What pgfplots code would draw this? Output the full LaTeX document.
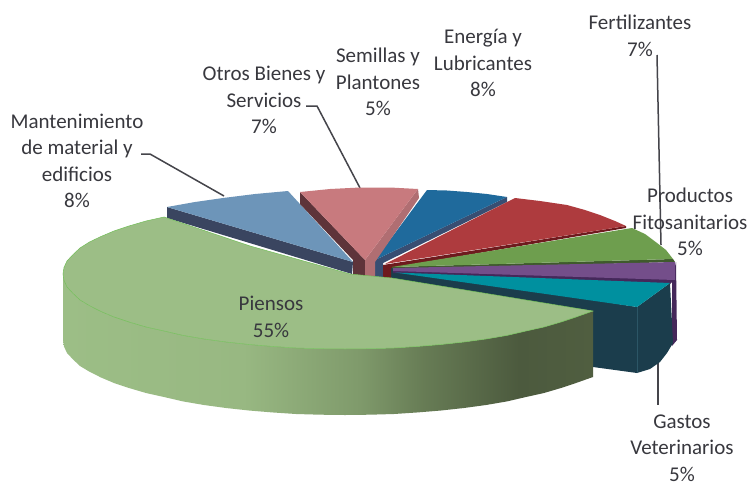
\documentclass[border=0pt]{standalone}
\usepackage{pgfplots}
\pgfplotsset{compat=1.18}
\usepackage{fontspec}
\setmainfont{Carlito}
\definecolor{tx}{HTML}{38383E}
\definecolor{ld}{HTML}{45454B}
\definecolor{gTop}{HTML}{9CBE86}
\definecolor{gEdge}{HTML}{72BE58}
\definecolor{bgTop}{HTML}{6D95B9}
\definecolor{bgSide}{HTML}{3A4560}
\definecolor{pTop}{HTML}{C87A7E}
\definecolor{pSideL}{HTML}{5E343A}
\definecolor{pSideR}{HTML}{B06E72}
\definecolor{bTop}{HTML}{1F6A9C}
\definecolor{bSide}{HTML}{384E72}
\definecolor{rTop}{HTML}{AE3B3E}
\definecolor{rSide}{HTML}{6E1A1E}
\definecolor{lgTop}{HTML}{6E9E4E}
\definecolor{lgSide}{HTML}{3F5A2C}
\definecolor{puTop}{HTML}{744E8A}
\definecolor{puSide}{HTML}{45285A}
\definecolor{tTop}{HTML}{00909F}
\definecolor{tSide}{HTML}{1B3D4C}
\definecolor{tEdge}{HTML}{2C5666}
\definecolor{s0}{HTML}{9CBE86}
\definecolor{s1}{HTML}{98B882}
\definecolor{s2}{HTML}{7F9A6B}
\definecolor{s3}{HTML}{677C55}
\definecolor{s4}{HTML}{4C5A3E}
\definecolor{s5}{HTML}{505E40}
\pgfdeclarehorizontalshading{greenside}{100bp}{
  color(0bp)=(s0); color(25bp)=(s0); color(42bp)=(s1); color(53bp)=(s2);
  color(59bp)=(s3); color(68bp)=(s4); color(75bp)=(s5); color(100bp)=(s5)}
\tikzset{lbl/.style={font=\fontsize{21}{26.5}\selectfont, text=tx, align=center, inner sep=0pt}}
\begin{document}
\begin{tikzpicture}
\begin{axis}[
  scale only axis, width=751pt, height=485pt,
  xmin=0, xmax=751, ymin=0, ymax=485, y dir=reverse,
  hide axis, clip=false,
]
\path[fill=white] (axis cs:0,0) rectangle (axis cs:751,485);
% leader lines behind the pie
\addplot[ld, line width=1.5pt] coordinates {(657,55) (661,245)};
\addplot[ld, line width=1.5pt] coordinates {(658,360) (658,405)};
\addplot[ld, line width=1.5pt] coordinates {(141,154) (150,154) (224,196)};
\addplot[ld, line width=1.5pt] coordinates {(306,106) (317,106) (360,188)};
% purple side
\addplot[fill=puSide, draw=none] coordinates {(672,280) (676,262) (677,340) (672,346)} --cycle;
% teal side
\addplot[fill=tSide, draw=none] coordinates {(390,268) (392,268) (637,307) (670,283) (673,343) (667,353) (660,362) (650,369) (637,373) (593,367) (593,311) (392,282) (390,280)} --cycle;
\addplot[tEdge, line width=0.6pt] coordinates {(637,307) (637,373)};
% dark blue slice
\addplot[fill=bSide, draw=none] coordinates {(507,197) (507,202) (383,263) (383,278) (375,278) (375,260)} --cycle;
\addplot[fill=bTop, draw=none] coordinates {(427,190) (447,190.5) (467,192) (487,194) (507,197) (375,260)} --cycle;
% red slice
\addplot[fill=rSide, draw=none] coordinates {(626,226) (626,228) (391,268) (391,278) (383,278) (383,265)} --cycle;
\addplot[fill=rTop, draw=none] coordinates {(515,198) (540,201) (567,205) (585,210) (600,215) (615,221) (626,226) (385,264)} --cycle;
% small green slice
\addplot[fill=lgSide, draw=none] coordinates {(392,267) (673,259) (675,262) (393,270)} --cycle;
\addplot[fill=lgTop, draw=none] coordinates {(632,228) (645,234) (657,243) (666,250) (673,259) (392,267)} --cycle;
% purple top
\addplot[fill=puSide, draw=none] coordinates {(393,270) (675,279) (670,284) (393,273)} --cycle;
\addplot[fill=puTop, draw=none] coordinates {(393,268) (675,262) (675,280) (393,271)} --cycle;
% teal top
\addplot[fill=tTop, draw=none] coordinates {(395,272.5) (670,283) (637,307)} --cycle;
% blue-grey slice
\addplot[fill=bgSide, draw=none] coordinates {(167,207) (167,218) (352,274) (353,262)} --cycle;
\addplot[fill=bgTop, draw=none] coordinates {(167,207) (195,202) (223,198) (255,194) (288,191) (353,262)} --cycle;
% pink slice
\addplot[fill=pSideL, draw=none] coordinates {(300,192) (300,204) (353,260) (353,276) (365,276) (365,260)} --cycle;
\addplot[fill=pSideR, draw=none] coordinates {(418,189) (419,198) (375,262) (375,277) (365,277) (365,260)} --cycle;
\addplot[fill=pTop, draw=none] coordinates {(300,192) (330,189) (360,187.5) (390,187.5) (418,189) (365,260)} --cycle;
% main slice: side wall
\addplot[shading=greenside, draw=none] coordinates {
 (63,274) (64,280.5) (67,287) (73,293.4) (80,300) (89.5,305.7) (101,311.5) (114,317) (129,322) (146,327) (164,331) (183,335.4) (204,339) (226,342) (249,344.5) (272,346.4) (296,348) (320.5,348.7) (345,349)
 (369.5,348.7) (394,348) (418,346.4) (441,344.5) (464,342) (486,339) (507,335.4) (526,331) (544,327) (561,322) (576,317) (593,311)
 (593,377) (576,383) (561,388) (544,393) (526,397) (507,401.4) (486,405) (464,408) (441,410.5) (418,412.4) (394,414) (369.5,414.7) (345,415) (320.5,414.7) (296,414) (272,412.4) (249,410.5) (226,408) (204,405) (183,401.4)
 (164,397) (146,393) (129,388) (114,383) (101,377.5) (89.5,371.7) (80,366) (73,359.4) (67,353) (64,346.5) (63,340)} --cycle;
% main slice: top
\addplot[fill=gTop, draw=gEdge, line width=0.5pt] coordinates {
 (164,217) (146,221) (129,226) (114,231) (101,236.5) (89.5,242) (80,248) (73,254.6) (67,261) (64,267.5) (63,274) (64,280.5) (67,287) (73,293.4) (80,300) (89.5,305.7) (101,311.5) (114,317) (129,322) (146,327) (164,331)
 (183,335.4) (204,339) (226,342) (249,344.5) (272,346.4) (296,348) (320.5,348.7) (345,349) (369.5,348.7) (394,348) (418,346.4) (441,344.5) (464,342) (486,339) (507,335.4) (526,331) (544,327) (561,322) (576,317) (593,311)
 (392,278) (350,274) (250,246)} --cycle;
% labels
\node[lbl] at (axis cs:640,36) {Fertilizantes\\7\%};
\node[lbl] at (axis cs:483,63) {Energía y\\Lubricantes\\8\%};
\node[lbl] at (axis cs:378,82) {Semillas y\\Plantones\\5\%};
\node[lbl] at (axis cs:264,100) {Otros Bienes y\\Servicios\\7\%};
\node[lbl] at (axis cs:77,161) {Mantenimiento\\de material y\\edificios\\8\%};
\node[lbl] at (axis cs:690,222) {Productos\\Fitosanitarios\\5\%};
\node[lbl] at (axis cs:682,448) {Gastos\\Veterinarios\\5\%};
\node[lbl] at (axis cs:271,317) {Piensos\\55\%};
\end{axis}
\end{tikzpicture}
\end{document}
